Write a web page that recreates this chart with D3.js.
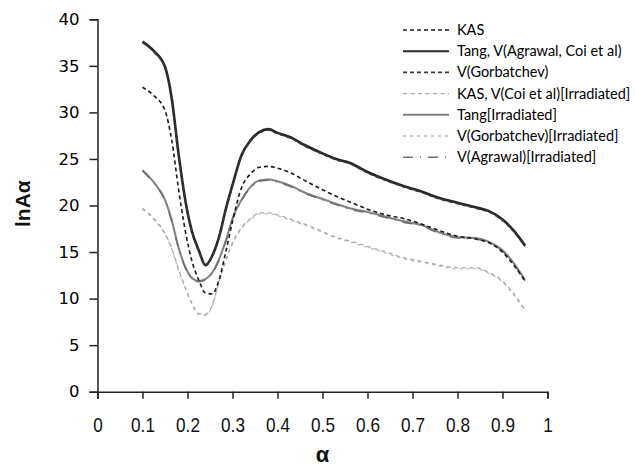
<!DOCTYPE html>
<html>
<head>
<meta charset="utf-8">
<script src="https://cdn.jsdelivr.net/npm/d3@7"></script>
<style>
  html, body { margin: 0; padding: 0; background: #fff; }
  svg { display: block; }
</style>
</head>
<body>
<svg id="chart" width="635" height="470"></svg>
<script>
// α grid shared by all curves
const alpha = [0.10, 0.125, 0.15, 0.165, 0.18, 0.195, 0.21, 0.225, 0.24, 0.255, 0.27, 0.285,
               0.30, 0.32, 0.34, 0.36, 0.38, 0.40, 0.43, 0.46, 0.50, 0.53, 0.56, 0.60,
               0.64, 0.68, 0.72, 0.76, 0.80, 0.84, 0.87, 0.90, 0.925, 0.95];

// lnAα for each method
const kas = [32.7, 31.8, 30.2, 27.0, 21.8, 17.3, 14.0, 12.0, 10.6, 10.5, 12.0, 15.0,
             18.3, 21.9, 23.4, 24.1, 24.2, 24.0, 23.5, 22.7, 21.7, 21.0, 20.4, 19.6,
             19.0, 18.6, 18.0, 17.3, 16.7, 16.4, 16.0, 15.0, 13.6, 11.9];
const tangAgrawalCoi = [37.6, 36.6, 34.9, 31.5, 25.6, 20.6, 17.2, 15.2, 13.6, 14.6, 16.6, 19.6,
             22.2, 25.4, 27.0, 27.9, 28.2, 27.8, 27.3, 26.5, 25.6, 25.0, 24.6, 23.6,
             22.8, 22.1, 21.5, 20.8, 20.3, 19.8, 19.4, 18.5, 17.3, 15.7];
const gorbatchev = [37.5, 36.5, 34.8, 31.4, 25.5, 20.5, 17.1, 15.1, 13.5, 14.5, 16.5, 19.5,
             22.1, 25.3, 26.9, 27.8, 28.1, 27.7, 27.2, 26.4, 25.5, 24.9, 24.5, 23.5,
             22.7, 22.0, 21.4, 20.7, 20.2, 19.7, 19.3, 18.4, 17.2, 15.6];
const kasCoiIrr = [19.7, 18.6, 17.0, 15.4, 13.2, 11.2, 9.5, 8.4, 8.3, 9.3, 11.8, 14.1,
             16.0, 17.6, 18.6, 19.2, 19.2, 19.0, 18.5, 18.0, 17.2, 16.6, 16.2, 15.6,
             15.0, 14.4, 14.0, 13.6, 13.3, 13.3, 12.8, 11.9, 10.5, 8.8];
const tangIrr = [23.8, 22.5, 20.6, 18.4, 15.5, 13.4, 12.2, 11.9, 12.1, 12.8, 14.2, 16.2,
             18.6, 20.6, 22.0, 22.7, 22.8, 22.6, 22.1, 21.4, 20.7, 20.2, 19.7, 19.3,
             18.8, 18.3, 17.9, 17.1, 16.6, 16.5, 16.1, 15.2, 13.8, 12.0];
const gorbatchevIrr = [19.6, 18.5, 16.9, 15.3, 13.1, 11.1, 9.4, 8.3, 8.2, 9.2, 11.7, 14.0,
             15.9, 17.5, 18.5, 19.1, 19.1, 18.9, 18.4, 17.9, 17.1, 16.5, 16.1, 15.5,
             14.9, 14.3, 13.9, 13.5, 13.2, 13.2, 12.7, 11.8, 10.4, 8.7];
const agrawalIrr = [23.7, 22.4, 20.5, 18.3, 15.4, 13.3, 12.1, 11.8, 12.0, 12.7, 14.1, 16.1,
             18.5, 20.5, 21.9, 22.6, 22.7, 22.5, 22.0, 21.3, 20.6, 20.1, 19.6, 19.2,
             18.7, 18.2, 17.8, 17.0, 16.5, 16.4, 16.0, 15.1, 13.7, 11.9];

const seriesNames = ["KAS", "Tang, V(Agrawal, Coi et al)", "V(Gorbatchev)",
  "KAS, V(Coi et al)[Irradiated]", "Tang[Irradiated]", "V(Gorbatchev)[Irradiated]",
  "V(Agrawal)[Irradiated]"];
const seriesValues = [kas, tangAgrawalCoi, gorbatchev, kasCoiIrr, tangIrr, gorbatchevIrr, agrawalIrr];

const xTicks = [0, 0.1, 0.2, 0.3, 0.4, 0.5, 0.6, 0.7, 0.8, 0.9, 1];
const yTicks = [0, 5, 10, 15, 20, 25, 30, 35, 40];

// line styles per series (same order as names)
const styles = [
  { color: "#1a1a1a", width: 1.6, dash: "4,3" },
  { color: "#262626", width: 2.6, dash: null },
  { color: "#3a3a3a", width: 1.6, dash: "4,3" },
  { color: "#a8a8a8", width: 1.3, dash: "4,3.5" },
  { color: "#808080", width: 2.0, dash: null },
  { color: "#bdbdbd", width: 1.3, dash: "3,4" },
  { color: "#6e6e6e", width: 1.4, dash: "10,7,1,7" }
];

const svg = d3.select("#chart");
const x = d3.scaleLinear().domain([0, 1]).range([97.5, 547.5]);
const y = d3.scaleLinear().domain([0, 40]).range([391.7, 19.3]);

// axes
const xAxis = svg.append("g").attr("transform", `translate(0,${y(0)})`)
  .call(d3.axisBottom(x).tickValues(xTicks).tickSize(7).tickPadding(19)
    .tickFormat(d => d === 0 || d === 1 ? d3.format("d")(d) : d3.format(".1f")(d)));
xAxis.select(".domain").attr("stroke", "#222").attr("stroke-width", 1.5);
xAxis.selectAll(".tick line").attr("stroke", "#222").attr("stroke-width", 1.5);
xAxis.selectAll(".tick text")
  .attr("font-family", "'Liberation Sans', Arial, sans-serif")
  .attr("font-size", 20).attr("fill", "#111")
  .attr("transform", "scale(0.86,1)");

const yAxis = svg.append("g").attr("transform", `translate(${x(0)},0)`)
  .call(d3.axisLeft(y).tickValues(yTicks).tickSize(8).tickPadding(10));
yAxis.select(".domain").attr("stroke", "#222").attr("stroke-width", 1.5);
yAxis.selectAll(".tick line").attr("stroke", "#222").attr("stroke-width", 1.5);
yAxis.selectAll(".tick text")
  .attr("font-family", "'DejaVu Sans', Verdana, sans-serif")
  .attr("font-size", 16.5).attr("fill", "#000");

// axis titles
svg.append("text")
  .attr("transform", `translate(30,${y(20.2)}) rotate(-90)`)
  .attr("text-anchor", "middle")
  .attr("font-family", "'Liberation Sans', Arial, sans-serif")
  .attr("font-weight", "bold").attr("font-size", 21).attr("fill", "#111")
  .text("lnAα");

svg.append("text")
  .attr("x", x(0.5)).attr("y", 462)
  .attr("text-anchor", "middle")
  .attr("font-family", "'Liberation Sans', Arial, sans-serif")
  .attr("font-weight", "bold").attr("font-size", 22).attr("fill", "#111")
  .text("α");

// curves: light irradiated ones underneath, dark ones on top
const line = d3.line().x((d, i) => x(alpha[i])).y(d => y(d)).curve(d3.curveMonotoneX);
const drawOrder = [5, 3, 4, 6, 0, 1, 2];
svg.append("g").selectAll("path").data(drawOrder).join("path")
  .attr("d", i => line(seriesValues[i]))
  .attr("fill", "none")
  .attr("stroke", i => styles[i].color)
  .attr("stroke-width", i => styles[i].width)
  .attr("stroke-dasharray", i => styles[i].dash)
  .attr("stroke-linejoin", "round");

// legend
const legend = svg.append("g").attr("transform", "translate(403,30)");
const rows = legend.selectAll("g").data(seriesNames).join("g")
  .attr("transform", (d, i) => `translate(0,${i * 21.2})`);
rows.append("line")
  .attr("x1", 0).attr("x2", 46).attr("y1", 0).attr("y2", 0)
  .attr("stroke", (d, i) => styles[i].color)
  .attr("stroke-width", (d, i) => Math.min(styles[i].width, 2))
  .attr("stroke-dasharray", (d, i) => styles[i].dash);
rows.append("text")
  .attr("x", 54).attr("y", 0).attr("dy", "0.35em")
  .attr("font-family", "Lato, 'Open Sans', sans-serif")
  .attr("font-size", 14.5).attr("fill", "#000")
  .text(d => d);
</script>
</body>
</html>
